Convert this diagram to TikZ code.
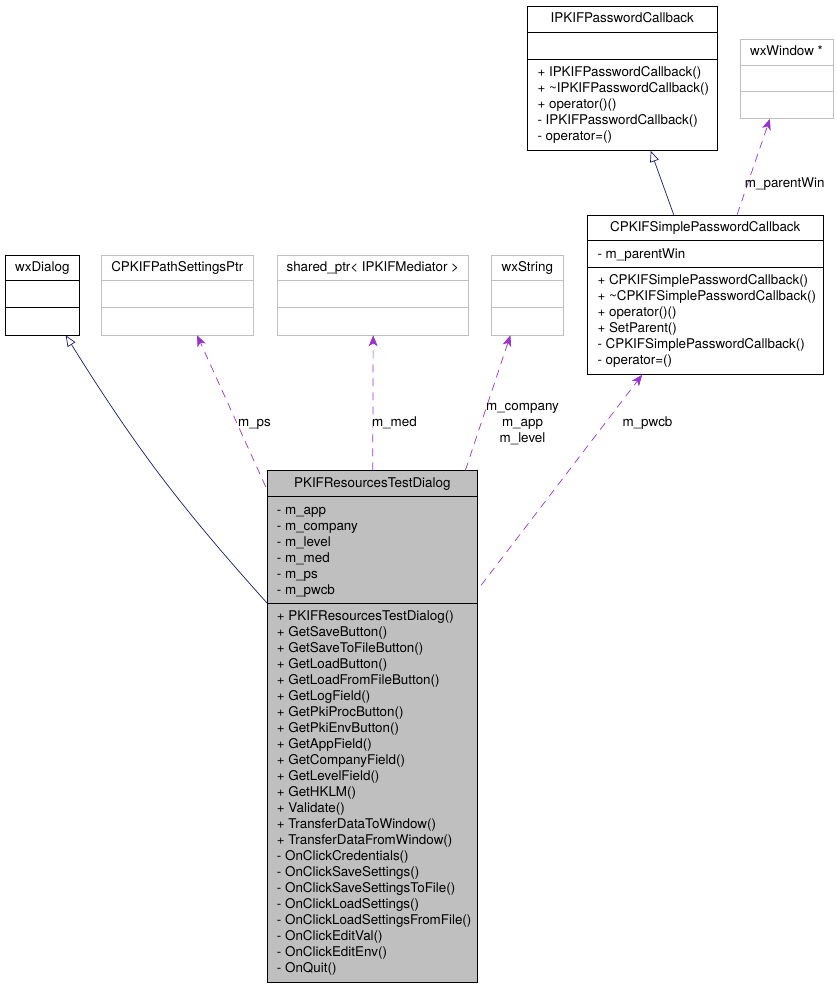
\documentclass[tikz,border=0pt]{standalone}
\usepackage{fontspec}
\setmainfont{TeX Gyre Heros}
\usetikzlibrary{arrows.meta}

\definecolor{boxgrey}{HTML}{BFBFBF}
\definecolor{usepurple}{HTML}{9A32CD}
\definecolor{inhblue}{HTML}{191970}

\begin{document}
\begin{tikzpicture}[x=1pt, y=-1pt,
  every node/.style={font=\fontsize{13.4}{16}\selectfont, inner sep=0pt},
  classbox/.style={draw=black, line width=0.8pt, shape=rectangle, anchor=north west},
  extbox/.style={classbox, draw=boxgrey},
  mainbox/.style={classbox, fill=boxgrey},
  title/.style={anchor=base},
  member/.style={anchor=base west},
  lbl/.style={anchor=base},
  inherit/.style={draw=inhblue, line width=0.7pt, -{Triangle[open, length=11pt, width=9pt]}},
  uses/.style={draw=usepurple, line width=0.7pt, dash pattern=on 8pt off 6pt,
               -{Stealth[length=11pt, width=9pt, inset=3pt]}}]
\useasboundingbox (0,0) rectangle (836,987);

% base classes and member types
\node [classbox, minimum width=74pt, minimum height=80pt] (wxdialog) at (5.3,254.5) {};
\draw [line width=0.8pt] ([yshift=-26pt]wxdialog.north west) -- ([yshift=-26pt]wxdialog.north east);
\draw [line width=0.8pt] ([yshift=-53pt]wxdialog.north west) -- ([yshift=-53pt]wxdialog.north east);
\node [title] (wxdialog-t) at (42.3,271.7) {wxDialog};

\node [extbox, minimum width=152pt, minimum height=80pt] (pathptr) at (101.3,254.5) {};
\draw [boxgrey, line width=0.8pt] ([yshift=-26pt]pathptr.north west) -- ([yshift=-26pt]pathptr.north east);
\draw [boxgrey, line width=0.8pt] ([yshift=-53pt]pathptr.north west) -- ([yshift=-53pt]pathptr.north east);
\node [title] (pathptr-t) at (177.3,271.7) {CPKIFPathSettingsPtr};

\node [extbox, minimum width=191pt, minimum height=80pt] (sharedptr) at (277.3,254.5) {};
\draw [boxgrey, line width=0.8pt] ([yshift=-26pt]sharedptr.north west) -- ([yshift=-26pt]sharedptr.north east);
\draw [boxgrey, line width=0.8pt] ([yshift=-53pt]sharedptr.north west) -- ([yshift=-53pt]sharedptr.north east);
\node [title] (sharedptr-t) at (372.8,271.7) {shared\_ptr< IPKIFMediator >};

\node [extbox, minimum width=72pt, minimum height=80pt] (wxstring) at (491.3,254.5) {};
\draw [boxgrey, line width=0.8pt] ([yshift=-26pt]wxstring.north west) -- ([yshift=-26pt]wxstring.north east);
\draw [boxgrey, line width=0.8pt] ([yshift=-53pt]wxstring.north west) -- ([yshift=-53pt]wxstring.north east);
\node [title] (wxstring-t) at (527.3,271.7) {wxString};

\node [extbox, minimum width=92.4pt, minimum height=79pt] (wxwindow) at (740.3,39) {};
\draw [boxgrey, line width=0.8pt] ([yshift=-26pt]wxwindow.north west) -- ([yshift=-26pt]wxwindow.north east);
\draw [boxgrey, line width=0.8pt] ([yshift=-52.3pt]wxwindow.north west) -- ([yshift=-52.3pt]wxwindow.north east);
\node [title] (wxwindow-t) at (786.5,56) {wxWindow *};

\node [classbox, minimum width=190pt, minimum height=144pt] (ipkif) at (527.3,6) {};
\draw [line width=0.8pt] ([yshift=-26.7pt]ipkif.north west) -- ([yshift=-26.7pt]ipkif.north east);
\draw [line width=0.8pt] ([yshift=-53.3pt]ipkif.north west) -- ([yshift=-53.3pt]ipkif.north east);
\node [title] (ipkif-t) at (622.3,23) {IPKIFPasswordCallback};
\foreach \m [count=\i] in {{+ IPKIFPasswordCallback()}, {+ \textasciitilde IPKIFPasswordCallback()},
    {+ operator()()}, {- IPKIFPasswordCallback()}, {- operator=()}}
  \node [member] (ipkif-m\i) at (537.3,76.4+16*\i-16) {\m};

\node [classbox, minimum width=236pt, minimum height=159.3pt] (cpkif) at (587.3,214.7) {};
\draw [line width=0.8pt] ([yshift=-26pt]cpkif.north west) -- ([yshift=-26pt]cpkif.north east);
\draw [line width=0.8pt] ([yshift=-52.6pt]cpkif.north west) -- ([yshift=-52.6pt]cpkif.north east);
\node [title] (cpkif-t) at (705.3,231) {CPKIFSimplePasswordCallback};
\node [member] (cpkif-a1) at (597.3,258) {- m\_parentWin};
\foreach \m [count=\i] in {{+ CPKIFSimplePasswordCallback()}, {+ \textasciitilde CPKIFSimplePasswordCallback()},
    {+ operator()()}, {+ SetParent()}, {- CPKIFSimplePasswordCallback()}, {- operator=()}}
  \node [member] (cpkif-m\i) at (597.3,284.7+16*\i-16) {\m};

% the dialog itself
\node [mainbox, minimum width=210pt, minimum height=511.5pt] (main) at (267.3,470.3) {};
\draw [line width=0.8pt] ([yshift=-25.7pt]main.north west) -- ([yshift=-25.7pt]main.north east);
\draw [line width=0.8pt] ([yshift=-133pt]main.north west) -- ([yshift=-133pt]main.north east);
\node [title] (main-t) at (372.3,487.3) {PKIFResourcesTestDialog};
\foreach \m [count=\i] in {m\_app, m\_company, m\_level, m\_med, m\_ps, m\_pwcb}
  \node [member] (main-a\i) at (276.7,514.7+16*\i-16) {- \m};
\foreach \m [count=\i] in {{+ PKIFResourcesTestDialog()}, {+ GetSaveButton()}, {+ GetSaveToFileButton()},
    {+ GetLoadButton()}, {+ GetLoadFromFileButton()}, {+ GetLogField()}, {+ GetPkiProcButton()},
    {+ GetPkiEnvButton()}, {+ GetAppField()}, {+ GetCompanyField()}, {+ GetLevelField()},
    {+ GetHKLM()}, {+ Validate()}, {+ TransferDataToWindow()}, {+ TransferDataFromWindow()},
    {- OnClickCredentials()}, {- OnClickSaveSettings()}, {- OnClickSaveSettingsToFile()},
    {- OnClickLoadSettings()}, {- OnClickLoadSettingsFromFile()}, {- OnClickEditVal()},
    {- OnClickEditEnv()}, {- OnQuit()}}
  \node [member] (main-m\i) at (276.7,620.7+16*\i-16) {\m};

% inheritance
\draw [inherit] ([yshift=-133pt]main.north west) to[bend left=5] ([xshift=23pt]wxdialog.south);
\draw [inherit] ([xshift=-32pt]cpkif.north) -- ([xshift=28pt]ipkif.south);

% usage
\draw [uses] ([xshift=-1.6pt,yshift=-16.4pt]main.north west) -- ([xshift=19.4pt]pathptr.south);
\node [lbl] (ps-l) at (254.5,426.7) {m\_ps};
\draw [uses] (main.north) -- (sharedptr.south);
\node [lbl] (med-l) at (394.4,426.7) {m\_med};
\draw [uses] ([xshift=92.7pt]main.north) -- ([xshift=-17.3pt]wxstring.south);
\node [lbl] (company-l) at (522.5,410.7) {m\_company};
\node [lbl] (app-l) at (522.5,426.7) {m\_app};
\node [lbl] (level-l) at (522.5,442.7) {m\_level};
\draw [uses] ([xshift=3pt,yshift=-115pt]main.north east) -- ([xshift=-63.6pt]cpkif.south);
\node [lbl] (pwcb-l) at (647.5,426.7) {m\_pwcb};
\draw [uses] ([xshift=31.4pt]cpkif.north) -- ([xshift=-17pt]wxwindow.south);
\node [lbl] (parentwin-l) at (784.7,187.4) {m\_parentWin};

\end{tikzpicture}
\end{document}
